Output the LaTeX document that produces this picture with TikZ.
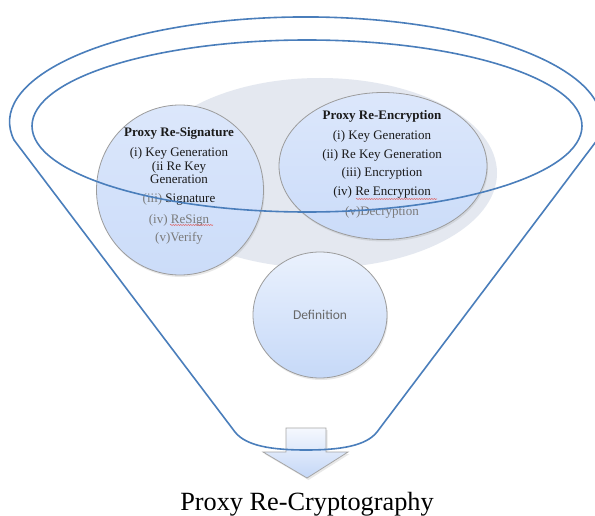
\documentclass[tikz,border=0pt]{standalone}
\usepackage{fontspec}
\setmainfont{Liberation Serif}
\newfontfamily\calibfont{Carlito}
\usetikzlibrary{shapes.geometric,shadows,decorations.pathmorphing}
\definecolor{funnelblue}{HTML}{4A7EBB}
\definecolor{bggray}{HTML}{E4E8F0}
\definecolor{rimgray}{HTML}{9C9C9C}
\definecolor{txtdark}{HTML}{1A1A1A}
\definecolor{txtgray}{HTML}{7A7A7A}
\definecolor{bubtop}{HTML}{DCE7FB}
\definecolor{bubmid}{HTML}{B9D0F6}
\definecolor{bubbot}{HTML}{CBDCF9}
\definecolor{deftop}{HTML}{EAF1FD}
\definecolor{defbot}{HTML}{C6D9F8}
\definecolor{arrtop}{HTML}{F5F8FE}
\definecolor{arrbot}{HTML}{C4D7F7}
\definecolor{squig}{HTML}{E06060}
\begin{document}
\begin{tikzpicture}[x=1pt,y=-1pt,
  bubble/.style={ellipse, draw=rimgray, line width=0.8pt, top color=bubtop, middle color=bubmid, bottom color=bubbot,
    drop shadow={opacity=0.18, shadow xshift=1pt, shadow yshift=-2pt}},
  defbubble/.style={ellipse, draw=rimgray, line width=0.8pt, top color=deftop, bottom color=defbot,
    drop shadow={opacity=0.18, shadow xshift=1pt, shadow yshift=-2pt}},
  funnelline/.style={draw=funnelblue, line width=1.6pt},
  head/.style={anchor=base, font=\fontsize{13}{15}\selectfont\bfseries, text=txtdark, inner sep=0pt},
  item/.style={anchor=base, font=\fontsize{13}{15}\selectfont, text=txtdark, inner sep=0pt},
  grayitem/.style={anchor=base, font=\fontsize{13}{15}\selectfont, text=txtgray, inner sep=0pt},
  squiggle/.style={draw=squig, line width=0.5pt, decorate, decoration={snake, amplitude=0.6pt, segment length=2.5pt}}
]
\useasboundingbox (0,0) rectangle (595,516);
\clip (0,0) rectangle (595,516);
\fill[white] (0,0) rectangle (595,516);

% background gray ellipse
\node[ellipse, fill=bggray, minimum width=354pt, minimum height=190pt, inner sep=0pt] (bg) at (320,173) {};

% Proxy Re-Signature bubble
\node[bubble, minimum width=167pt, minimum height=170pt, inner sep=0pt] (sig) at (180,190) {};
\node[head] (sigh) at (179,137) {Proxy Re-Signature};
\node[item] (sig1) at (179,157) {(i) Key Generation};
\node[item] (sig2) at (179,171) {(ii Re Key};
\node[item] (sig2b) at (179,184) {Generation};
\node[item] (sig3) at (179,203) {\textcolor{txtgray}{(iii)} Signature};
\node[grayitem] (sig4) at (179,223) {(iv) ReSign};
\node[grayitem] (sig5) at (179,241) {(v)Verify};
\draw[squiggle] (170,225) -- (213,225);

% Proxy Re-Encryption bubble
\node[bubble, minimum width=208pt, minimum height=147pt, inner sep=0pt] (enc) at (383,166) {};
\node[head] (ench) at (382,120) {Proxy Re-Encryption};
\node[item] (enc1) at (382,140) {(i) Key Generation};
\node[item] (enc2) at (382,159) {(ii) Re Key Generation};
\node[item] (enc3) at (382,177) {(iii) Encryption};
\node[item] (enc4) at (382,196) {(iv) Re Encryption};
\node[grayitem] (enc5) at (382,215) {(v)Decryption};
\draw[squiggle] (356,199) -- (437,199);

% Definition bubble
\node[defbubble, minimum width=134pt, minimum height=126pt, inner sep=0pt] (def) at (320,315) {};
\node[font=\calibfont\fontsize{13.5}{15}\selectfont, text=txtgray!85!black] (deft) at (320,315) {Definition};

% arrow
\draw[draw=rimgray!90, line width=0.8pt, top color=arrtop, bottom color=arrbot,
  drop shadow={opacity=0.18, shadow xshift=1.5pt, shadow yshift=-2pt}]
  (286,428) -- (326,428) -- (326,452) -- (348,452) -- (307,478) -- (263,452) -- (286,452) -- cycle;

% funnel
\draw[funnelline] (307,126) ellipse[x radius=275, y radius=86];
\draw[funnelline, line join=round]
  (14,140) arc[start angle=170.1, end angle=369.9, x radius=296, y radius=105]
  -- (377,432) .. controls (366,446) and (340,450) .. (306,450)
  .. controls (272,450) and (246,446) .. (235,432) -- cycle;

% caption
\node[anchor=base, font=\fontsize{26.3}{30}\selectfont, text=black, inner sep=0pt] (cap) at (307,510) {Proxy Re-Cryptography};
\end{tikzpicture}
\end{document}
